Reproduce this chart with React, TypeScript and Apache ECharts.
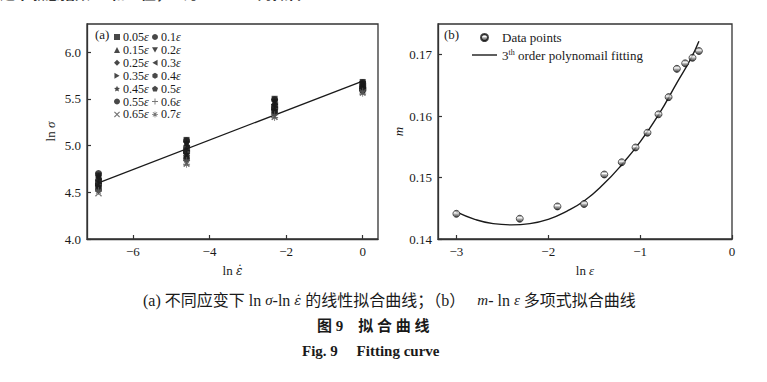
import React, { useEffect, useRef } from "react";
import * as echarts from "echarts";

// ---------- data ----------
const STRAIN_RATE_LN = [-6.9, -4.6, -2.3, 0];
const STRAINS = ["0.05ε", "0.1ε", "0.15ε", "0.2ε", "0.25ε", "0.3ε", "0.35ε", "0.4ε", "0.45ε", "0.5ε", "0.55ε", "0.6ε", "0.65ε", "0.7ε"];
// ln sigma for each strain at the four ln strain rates
const LN_SIGMA: number[][] = [
  [4.68, 5.06, 5.50, 5.68],
  [4.70, 5.05, 5.49, 5.67],
  [4.67, 5.03, 5.47, 5.66],
  [4.65, 5.01, 5.46, 5.65],
  [4.63, 4.99, 5.44, 5.64],
  [4.62, 4.97, 5.43, 5.63],
  [4.60, 4.95, 5.41, 5.62],
  [4.58, 4.93, 5.40, 5.61],
  [4.57, 4.91, 5.38, 5.60],
  [4.55, 4.89, 5.37, 5.60],
  [4.53, 4.86, 5.35, 5.59],
  [4.52, 4.84, 5.33, 5.58],
  [4.49, 4.81, 5.31, 5.57],
  [4.51, 4.80, 5.30, 5.56],
];
const LINEAR_FIT_X = [-6.9, 0];
const LINEAR_FIT_Y = [4.60, 5.69];

const LN_EPS = [-3.0, -2.31, -1.90, -1.61, -1.39, -1.20, -1.05, -0.92, -0.80, -0.69, -0.60, -0.51, -0.43, -0.36];
const M_VALUES = [0.1441, 0.1433, 0.1453, 0.1457, 0.1505, 0.1525, 0.1549, 0.1573, 0.1603, 0.1631, 0.1677, 0.1686, 0.1695, 0.1706];
const POLY_FIT_X = [-3.0, -2.8, -2.6, -2.4, -2.2, -2.0, -1.8, -1.6, -1.4, -1.2, -1.0, -0.8, -0.6, -0.45, -0.36];
const POLY_FIT_Y = [0.1444, 0.1432, 0.1425, 0.1423, 0.1425, 0.1432, 0.1445, 0.1463, 0.1489, 0.1521, 0.1558, 0.1602, 0.1654, 0.1693, 0.1722];

const LEFT_X_TICKS = [-6, -4, -2, 0];
const LEFT_Y_TICKS = [4.0, 4.5, 5.0, 5.5, 6.0];
const RIGHT_X_TICKS = [-3, -2, -1, 0];
const RIGHT_Y_TICKS = [0.14, 0.15, 0.16, 0.17];

// ---------- styles ----------
const SERIF = "'Liberation Serif', 'Noto Sans CJK SC', serif";
const DOTSERIF = "'DejaVu Serif', 'Liberation Serif', serif";
const CJK = "'Liberation Serif', 'Noto Sans CJK SC', sans-serif";
const INK = "#1a1a1a";

const STAR = "path://M0,-10L2.9,-4L9.5,-3.1L4.7,1.5L5.9,8.1L0,5L-5.9,8.1L-4.7,1.5L-9.5,-3.1L-2.9,-4Z";
const PLUS = "path://M-1.5,-10H1.5V-1.5H10V1.5H1.5V10H-1.5V1.5H-10V-1.5H-1.5Z";
const CROSS = "path://M-8.1,-6L-6,-8.1L0,-2.1L6,-8.1L8.1,-6L2.1,0L8.1,6L6,8.1L0,2.1L-6,8.1L-8.1,6L-2.1,0Z";
const ASTER = "path://M-1.2,-10H1.2V-1.2H10V1.2H1.2V10H-1.2V1.2H-10V-1.2H-1.2Z M-7.9,-6.2L-6.2,-7.9L7.9,6.2L6.2,7.9Z M6.2,-7.9L7.9,-6.2L-6.2,7.9L-7.9,6.2Z";
const HEX = "path://M0,-10L8.7,-5L8.7,5L0,10L-8.7,5L-8.7,-5Z";
const PENT = "path://M0,-10L9.5,-3.1L5.9,8.1L-5.9,8.1L-9.5,-3.1Z";
const TRI_DOWN = "path://M-8.7,-5L8.7,-5L0,10Z";
const TRI_LEFT = "path://M-10,0L5,-8.7L5,8.7Z";
const TRI_RIGHT = "path://M10,0L-5,-8.7L-5,8.7Z";
const LINE_ICON = "path://M0,0H25V1.4H0Z";

const MARKERS: { symbol: string; size: number; color: string }[] = [
  { symbol: "rect", size: 6, color: INK },
  { symbol: "circle", size: 7, color: INK },
  { symbol: "triangle", size: 7, color: INK },
  { symbol: TRI_DOWN, size: 7, color: INK },
  { symbol: "diamond", size: 7, color: INK },
  { symbol: TRI_LEFT, size: 7, color: INK },
  { symbol: TRI_RIGHT, size: 7, color: INK },
  { symbol: HEX, size: 7, color: INK },
  { symbol: STAR, size: 7, color: INK },
  { symbol: PENT, size: 7, color: INK },
  { symbol: "circle", size: 7, color: INK },
  { symbol: PLUS, size: 7, color: "#555" },
  { symbol: CROSS, size: 7, color: "#555" },
  { symbol: ASTER, size: 7, color: "#555" },
];

export default function App() {
  const ref = useRef<HTMLDivElement>(null);

  useEffect(() => {
    document.body.style.margin = "0";
    if (!ref.current) return;
    const chart = echarts.init(ref.current, undefined, { renderer: "svg" });

    const axisLine = { show: true, onZero: false, lineStyle: { color: "#333", width: 1.3 } };
    const axisLabel = { color: INK, fontFamily: SERIF, fontSize: 13, margin: 6 };
    const tick = (vals: number[]) => ({ show: true, inside: true, length: 4, lineStyle: { color: "#333", width: 1.2 }, customValues: vals });

    const legendFmt = (name: string) => `{n|${name.slice(0, -1)}}{e|ε}`;
    const legendRich = {
      n: { fontFamily: SERIF, fontSize: 12, color: INK },
      e: { fontFamily: SERIF, fontSize: 12, color: INK, fontStyle: "italic" },
    };
    const legendItems = (parity: number) =>
      STRAINS.map((name, i) => ({ name, icon: MARKERS[i].symbol, i })).filter((d) => d.i % 2 === parity).map(({ name, icon }) => ({ name, icon }));
    const legendBase = {
      orient: "vertical",
      top: 31,
      padding: 0,
      itemWidth: 6,
      itemHeight: 6,
      itemGap: 0.9,
      selectedMode: false,
      formatter: legendFmt,
      textStyle: { rich: legendRich, fontSize: 12, padding: [0, 0, 0, -2] },
    };

    const scatterSeries = STRAINS.map((name, i) => ({
      name,
      type: "scatter",
      xAxisIndex: 0,
      yAxisIndex: 0,
      symbol: MARKERS[i].symbol,
      symbolSize: MARKERS[i].size,
      itemStyle: { color: MARKERS[i].color },
      data: STRAIN_RATE_LN.map((x, j) => [x, LN_SIGMA[i][j]]),
      z: 3,
    }));

    const nameRich = {
      a: { fontFamily: SERIF, fontSize: 13, color: INK },
      b: { fontFamily: SERIF, fontSize: 13, color: INK, fontStyle: "italic" },
      d: { fontFamily: DOTSERIF, fontSize: 12, color: INK, fontStyle: "italic" },
    };

    const option: any = {
      animation: false,
      grid: [
        { left: 87, top: 24, width: 291, height: 215, show: true, borderColor: "#333", borderWidth: 1.3 },
        { left: 438, top: 24, width: 294, height: 215, show: true, borderColor: "#333", borderWidth: 1.3 },
      ],
      xAxis: [
        {
          type: "value", gridIndex: 0, min: -7.2, max: 0.4,
          name: "{a|ln }{d|ε̇}", nameLocation: "middle", nameGap: 25,
          nameTextStyle: { rich: nameRich },
          axisLine, axisTick: tick(LEFT_X_TICKS),
          axisLabel: { ...axisLabel, customValues: LEFT_X_TICKS, formatter: (v: number) => (v < 0 ? "−" + Math.abs(v) : String(v)) },
          splitLine: { show: false },
        },
        {
          type: "value", gridIndex: 1, min: -3.2, max: 0,
          name: "{a|ln }{b|ε}", nameLocation: "middle", nameGap: 25,
          nameTextStyle: { rich: nameRich },
          axisLine, axisTick: tick(RIGHT_X_TICKS),
          axisLabel: { ...axisLabel, customValues: RIGHT_X_TICKS, formatter: (v: number) => (v < 0 ? "−" + Math.abs(v) : String(v)) },
          splitLine: { show: false },
        },
      ],
      yAxis: [
        {
          type: "value", gridIndex: 0, min: 4, max: 6.3,
          name: "{a|ln }{b|σ}", nameLocation: "middle", nameGap: 30,
          nameTextStyle: { rich: nameRich },
          axisLine, axisTick: tick(LEFT_Y_TICKS),
          axisLabel: { ...axisLabel, customValues: LEFT_Y_TICKS, formatter: (v: number) => v.toFixed(1) },
          splitLine: { show: false },
        },
        {
          type: "value", gridIndex: 1, min: 0.14, max: 0.175,
          name: "m", nameLocation: "middle", nameGap: 33,
          nameTextStyle: { fontFamily: SERIF, fontSize: 13, color: INK, fontStyle: "italic" },
          axisLine, axisTick: tick(RIGHT_Y_TICKS),
          axisLabel: { ...axisLabel, customValues: RIGHT_Y_TICKS, formatter: (v: number) => v.toFixed(2) },
          splitLine: { show: false },
        },
      ],
      legend: [
        { ...legendBase, left: 114, data: legendItems(0) },
        { ...legendBase, left: 152, data: legendItems(1) },
        {
          orient: "vertical", left: 472, top: 31, padding: 0, itemWidth: 25, itemHeight: 7, itemGap: 4,
          selectedMode: false,
          data: [
            { name: "Data points" },
            { name: "3th order polynomail fitting", icon: LINE_ICON, itemStyle: { color: INK } },
          ],
          formatter: (name: string) => (name.startsWith("3th") ? "{n|3}{s|th}{n| order polynomail fitting}" : `{n|${name}}`),
          textStyle: {
            rich: {
              n: { fontFamily: SERIF, fontSize: 13, color: INK },
              s: { fontFamily: SERIF, fontSize: 8, color: INK, verticalAlign: "top", padding: [0, 0, 6, 0] },
            },
          },
        },
      ],
      series: [
        ...scatterSeries,
        {
          name: "linear fit", type: "line", xAxisIndex: 0, yAxisIndex: 0, symbol: "none",
          lineStyle: { color: INK, width: 1.3 }, itemStyle: { color: INK },
          data: LINEAR_FIT_X.map((x, i) => [x, LINEAR_FIT_Y[i]]), z: 2,
        },
        {
          name: "Data points", type: "scatter", xAxisIndex: 1, yAxisIndex: 1, symbol: "circle", symbolSize: 7,
          itemStyle: {
            color: new echarts.graphic.LinearGradient(0, 0, 0, 1, [
              { offset: 0, color: "#333" },
              { offset: 0.35, color: "#ffffff" },
              { offset: 0.55, color: "#999" },
              { offset: 1, color: "#000" },
            ]),
            borderColor: "#111", borderWidth: 0.8,
          },
          data: LN_EPS.map((x, i) => [x, M_VALUES[i]]), z: 4,
        },
        {
          name: "3th order polynomail fitting", type: "line", xAxisIndex: 1, yAxisIndex: 1, symbol: "none", smooth: true,
          lineStyle: { color: INK, width: 1.4 }, itemStyle: { color: INK },
          data: POLY_FIT_X.map((x, i) => [x, POLY_FIT_Y[i]]), z: 3,
        },
      ],
      graphic: [
        {
          type: "text", left: 0, top: -14,
          style: { text: "速率敏感指数 m 和 n 值，n 为 ln σ-ln ε̇ 的拟合", font: `bold 15px ${CJK}`, fill: "#333" },
        },
        { type: "text", left: 95, top: 28, style: { text: "(a)", font: `13px ${SERIF}`, fill: INK } },
        { type: "text", left: 444, top: 28, style: { text: "(b)", font: `13px ${SERIF}`, fill: INK } },
        {
          type: "text", left: 143, top: 292,
          style: {
            text: "{n|(a) 不同应变下 ln }{i|σ}{n|-ln }{d|ε̇}{n| 的线性拟合曲线；（b） }{i|m}{n|- ln }{i|ε}{n| 多项式拟合曲线}",
            rich: {
              n: { fontFamily: CJK, fontSize: 16, fill: INK },
              i: { fontFamily: SERIF, fontSize: 15, fill: INK, fontStyle: "italic" },
              d: { fontFamily: DOTSERIF, fontSize: 13, fill: INK, fontStyle: "italic" },
            },
          },
        },
        {
          type: "text", left: 317, top: 318,
          style: { text: "图 9    拟 合 曲 线", font: `bold 15px ${CJK}`, fill: INK },
        },
        {
          type: "text", left: 302, top: 343,
          style: { text: "Fig. 9     Fitting curve", font: `bold 15px ${SERIF}`, fill: INK },
        },
      ],
    };

    chart.setOption(option);
    return () => chart.dispose();
  }, []);

  return <div ref={ref} style={{ width: 767, height: 382, background: "#fff" }} />;
}
